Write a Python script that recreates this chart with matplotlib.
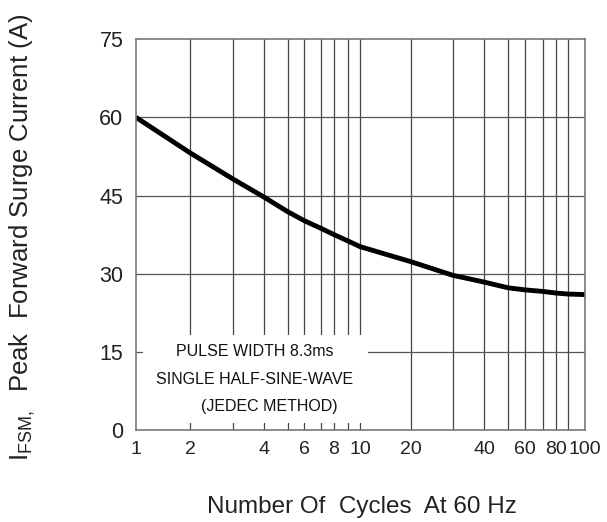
import numpy as np
import matplotlib
matplotlib.use('Agg')
import matplotlib.pyplot as plt
from matplotlib.patches import Rectangle

plt.rcParams['font.family'] = ['Liberation Sans', 'DejaVu Sans']

# surge curve
cycles = [1, 2, 3, 4, 5, 6, 7, 8, 9, 10, 20, 30, 40, 50, 60, 70, 80, 90, 100]
surge_a = [60.0, 53.2, 48.2, 44.7, 41.9, 40.2, 38.7, 37.5, 36.3, 35.2,
           32.3, 29.7, 28.4, 27.3, 26.9, 26.6, 26.3, 26.1, 26.0]

x_ticks = [1, 2, 4, 6, 8, 10, 20, 40, 60, 80, 100]
x_grid = [2, 3, 4, 5, 6, 7, 8, 9, 10, 20, 30, 40, 50, 60, 70, 80, 90]
y_ticks = [0, 15, 30, 45, 60, 75]
note = ['PULSE WIDTH 8.3ms', 'SINGLE HALF-SINE-WAVE', '(JEDEC METHOD)']

# the printed log axis is not quite logarithmic: knots of the drawn grid
knot_vals = np.array([1, 2, 3, 4, 5, 6, 7, 8, 9, 10,
                      20, 30, 40, 50, 60, 70, 80, 90, 100], dtype=float)
knot_pos = np.array([0, 54, 96.7, 128, 151.7, 168, 185, 198, 211.7, 224,
                     275, 316.7, 348, 372, 389, 407, 419.7, 432, 449]) / 449.0
knot_log = np.log10(knot_vals)


def fwd(x):
    x = np.clip(np.asarray(x, dtype=float), 1e-3, None)
    return np.interp(np.log10(x), knot_log, knot_pos,
                     left=-1, right=2)


def inv(p):
    return 10 ** np.interp(np.asarray(p, dtype=float), knot_pos, knot_log)


fig = plt.figure(figsize=(6.07, 5.22), dpi=100)
ax = fig.add_axes([0.224, 0.176, 0.740, 0.749])
ax.set_xscale('function', functions=(fwd, inv))

# grid
for gx in x_grid:
    ax.axvline(gx, color='#444444', lw=0.9, zorder=1)
for gy in [15, 30, 45, 60]:
    ax.axhline(gy, color='#555555', lw=0.9, zorder=1)

# white note box over the grid
ax.add_patch(Rectangle((0.0156, 0.018), 0.501, 0.225, transform=ax.transAxes,
                       facecolor='white', edgecolor='none', zorder=2))
ax.text(0.265, 0.200, note[0], transform=ax.transAxes, ha='center', va='center',
        fontsize=11.5, color='#111111', zorder=3)
ax.text(0.265, 0.130, note[1], transform=ax.transAxes, ha='center', va='center',
        fontsize=11.5, color='#111111', zorder=3)
ax.text(0.297, 0.060, note[2], transform=ax.transAxes, ha='center', va='center',
        fontsize=11.5, color='#111111', zorder=3)

ax.plot(cycles, surge_a, color='black', lw=3.5, zorder=4,
        solid_capstyle='butt', solid_joinstyle='round')

ax.set_xlim(1, 100)
ax.set_ylim(0, 75)
ax.set_xticks(x_ticks)
ax.set_xticklabels([str(v) for v in x_ticks])
ax.set_xticks([], minor=True)
ax.set_yticks(y_ticks)
ax.tick_params(length=0, colors='#222222')
ax.tick_params(axis='x', pad=8, labelsize=14)
ax.tick_params(axis='y', pad=9, labelsize=15.5)
for s in ax.spines.values():
    s.set_color('#777777')
    s.set_linewidth(1.2)
    s.set_zorder(5)

fig.text(0.596, 0.029, 'Number Of  Cycles  At 60 Hz', ha='center', va='center',
         fontsize=17.5, color='#222222')
fig.text(0.036, 0.545, r'I$_{\mathregular{FSM,}}$  Peak  Forward Surge Current (A)',
         rotation=90, ha='center', va='center', fontsize=18.5, color='#222222')

fig.savefig('out.png', dpi=100)
